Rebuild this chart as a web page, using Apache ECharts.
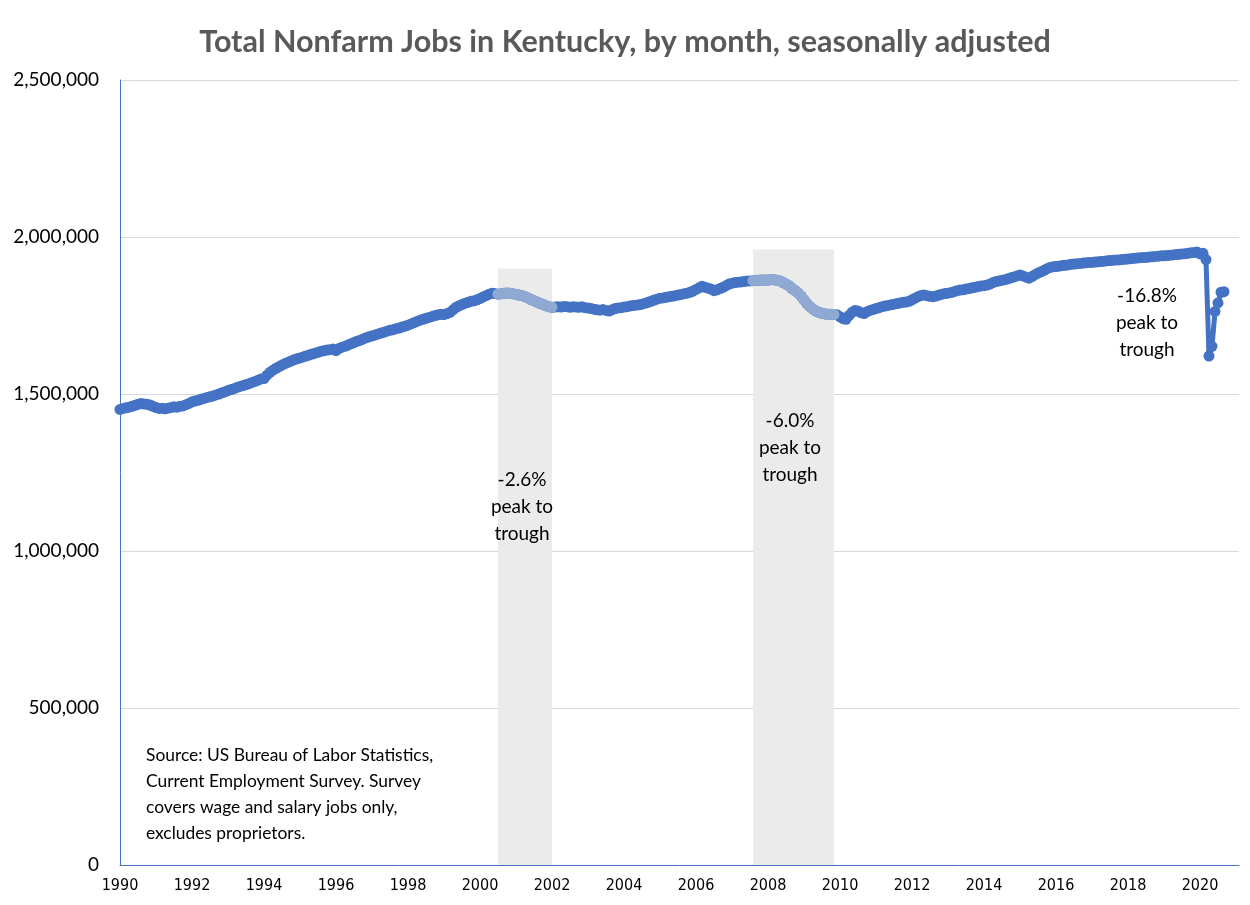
<!DOCTYPE html>
<html>
<head>
<meta charset="utf-8">
<script src="https://cdn.jsdelivr.net/npm/echarts@6/dist/echarts.min.js"></script>
<style>
html,body{margin:0;padding:0;background:#fff;}
#chart{width:1250px;height:905px;}
</style>
</head>
<body>
<div id="chart"></div>
<script>
// Monthly total nonfarm jobs in Kentucky (thousands), Jan 1990 .. Sep 2020
const jobs1990s = [
  1451,1454,1456,1458,1461,1464,1467,1470,1468,1467,1465,1461, // 1990
  1457,1454,1455,1453,1455,1457,1459,1458,1461,1462,1466,1470, // 1991
  1475,1478,1480,1483,1486,1489,1491,1494,1497,1500,1504,1507, // 1992
  1511,1514,1517,1521,1524,1527,1530,1533,1537,1540,1544,1548, // 1993
  1549,1560,1569,1576,1582,1587,1592,1597,1601,1605,1609,1612, // 1994
  1615,1618,1621,1624,1627,1630,1633,1636,1638,1640,1641,1643, // 1995
  1638,1645,1649,1652,1656,1660,1664,1668,1671,1675,1679,1682, // 1996
  1685,1688,1691,1694,1697,1700,1703,1705,1708,1710,1713,1716, // 1997
  1719,1723,1727,1731,1735,1738,1741,1744,1747,1750,1752,1754, // 1998
  1753,1756,1760,1768,1776,1781,1785,1789,1792,1795,1797,1800  // 1999
];
const jobs2000s = [
  1804,1809,1813,1818,1821,1820,1818,1819,1821,1822,1821,1819, // 2000
  1817,1815,1813,1810,1806,1801,1797,1793,1789,1785,1781,1778, // 2001
  1776,1777,1778,1777,1779,1778,1776,1778,1777,1776,1778,1775, // 2002
  1774,1772,1770,1768,1767,1769,1766,1764,1768,1772,1774,1775, // 2003
  1777,1778,1780,1782,1783,1784,1786,1789,1792,1795,1799,1802, // 2004
  1805,1806,1808,1810,1811,1813,1815,1817,1819,1821,1824,1828, // 2005
  1833,1838,1843,1840,1837,1834,1829,1832,1836,1840,1845,1850, // 2006
  1853,1855,1856,1857,1858,1860,1860,1861,1862,1862,1863,1863, // 2007
  1863,1864,1864,1862,1860,1855,1850,1845,1836,1830,1822,1812, // 2008
  1800,1788,1778,1770,1764,1760,1757,1755,1754,1754,1753,1752  // 2009
];
const jobs2010s = [
  1746,1740,1738,1750,1760,1766,1764,1759,1756,1762,1766,1769, // 2010
  1772,1775,1778,1780,1782,1784,1786,1788,1790,1792,1793,1795, // 2011
  1800,1805,1810,1814,1815,1813,1811,1810,1812,1815,1818,1820, // 2012
  1821,1823,1826,1829,1831,1832,1834,1836,1838,1840,1842,1844, // 2013
  1845,1847,1850,1855,1858,1860,1862,1864,1867,1870,1873,1876, // 2014
  1879,1876,1872,1869,1874,1880,1885,1889,1894,1899,1903,1905, // 2015
  1906,1907,1909,1910,1911,1913,1914,1915,1916,1917,1918,1919, // 2016
  1919,1920,1921,1922,1923,1924,1925,1926,1927,1927,1928,1929, // 2017
  1930,1931,1932,1933,1934,1935,1935,1936,1937,1938,1939,1940, // 2018
  1940,1941,1942,1943,1944,1945,1946,1947,1948,1950,1951,1952  // 2019
];
const jobs2020 = [1946,1948,1928,1621,1652,1763,1790,1824,1826];

const startYear = 1990;
const extraMonths = 5; // empty axis room after the last month
const yTicks = [0, 500000, 1000000, 1500000, 2000000, 2500000];
// recession shading: [start month, end month, top of band]
const recessions = [
  ['2000-07', '2002-01', 1900000],
  ['2007-08', '2009-11', 1960000]
];
const notes = [
  {text: '-2.6%\npeak to\ntrough', x: 522, y: 507},
  {text: '-6.0%\npeak to\ntrough', x: 790, y: 448},
  {text: '-16.8%\npeak to\ntrough', x: 1147, y: 323}
];
const sourceNote = 'Source: US Bureau of Labor Statistics,\nCurrent Employment Survey. Survey\ncovers wage and salary jobs only,\nexcludes proprietors.';
const titleText = 'Total Nonfarm Jobs in Kentucky, by month, seasonally adjusted';

const jobs = [].concat(jobs1990s, jobs2000s, jobs2010s, jobs2020).map(v => v * 1000);
const categories = [];
for (let i = 0; i < jobs.length + extraMonths; i++) {
  const y = startYear + Math.floor(i / 12);
  const m = (i % 12) + 1;
  categories.push(y + '-' + (m < 10 ? '0' + m : m));
}
const catIndex = c => categories.indexOf(c);
const lightData = jobs.map((v, i) => {
  for (const r of recessions) {
    if (i >= catIndex(r[0]) && i <= catIndex(r[1])) return v;
  }
  return null;
});

const DARK = '#4472C4';
const LIGHT = '#8FA9D3';
const FONT = 'Lato, "Open Sans", sans-serif';

const chart = echarts.init(document.getElementById('chart'));
chart.setOption({
  animation: false,
  backgroundColor: '#ffffff',
  title: {
    text: titleText,
    left: 'center',
    top: 22,
    textStyle: {fontFamily: FONT, fontSize: 30.5, fontWeight: 'bold', color: '#595959'}
  },
  grid: {left: 120, right: 11, top: 80, bottom: 40, containLabel: false},
  xAxis: {
    type: 'category',
    data: categories,
    boundaryGap: false,
    axisLine: {show: true, lineStyle: {color: DARK, width: 1}},
    axisTick: {show: false},
    splitLine: {show: false},
    axisLabel: {
      interval: 23,
      margin: 13,
      fontFamily: '"Liberation Sans Narrow", "DejaVu Sans Condensed", sans-serif',
      fontSize: 16,
      color: '#000',
      formatter: v => v.slice(0, 4)
    }
  },
  yAxis: {
    type: 'value',
    min: yTicks[0],
    max: yTicks[yTicks.length - 1],
    interval: yTicks[1] - yTicks[0],
    axisLine: {show: true, lineStyle: {color: DARK, width: 1}},
    axisTick: {show: false},
    splitLine: {show: true, lineStyle: {color: '#d9d9d9', width: 1}},
    axisLabel: {
      margin: 21,
      fontFamily: FONT,
      fontSize: 19,
      color: '#000',
      formatter: v => v.toLocaleString('en-US')
    }
  },
  series: [
    {
      type: 'line',
      data: [],
      z: 1,
      silent: true,
      markArea: {
        silent: true,
        itemStyle: {color: '#ebebeb'},
        data: recessions.map(r => [
          {xAxis: r[0], yAxis: 0},
          {xAxis: r[1], yAxis: r[2]}
        ])
      }
    },
    {
      type: 'line',
      data: jobs,
      z: 3,
      showAllSymbol: true,
      symbol: 'circle',
      symbolSize: 11,
      itemStyle: {color: DARK},
      lineStyle: {color: DARK, width: 5},
      emphasis: {disabled: true}
    },
    {
      type: 'line',
      data: lightData,
      z: 4,
      connectNulls: false,
      showAllSymbol: true,
      symbol: 'circle',
      symbolSize: 11,
      itemStyle: {color: LIGHT},
      lineStyle: {color: LIGHT, width: 5},
      emphasis: {disabled: true}
    }
  ],
  graphic: notes.map(n => ({
    type: 'text',
    x: n.x, y: n.y,
    z: 10,
    style: {
      text: n.text, fill: '#000', font: '19px ' + FONT,
      align: 'center', verticalAlign: 'middle', lineHeight: 27
    }
  })).concat([{
    type: 'text',
    x: 146, y: 794, z: 10,
    style: {
      text: sourceNote, fill: '#000', font: '17.4px ' + FONT,
      align: 'left', verticalAlign: 'middle', lineHeight: 26
    }
  }])
});
</script>
</body>
</html>
